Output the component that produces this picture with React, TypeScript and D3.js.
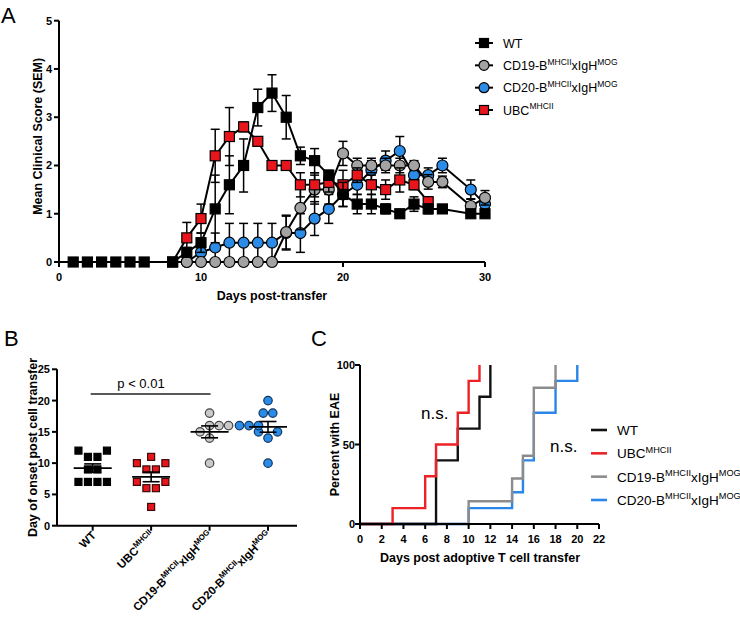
import * as d3 from "d3";

const FONT = "'Liberation Sans', Arial, Helvetica, sans-serif";

// ---- panel A: mean clinical score per day ----
const wtDays = [1, 2, 3, 4, 5, 6, 8, 9, 10, 11, 12, 13, 14, 15, 16, 17, 18, 19, 20, 21, 22, 23, 24, 25, 26, 27, 29, 30];
const wtMean = [0, 0, 0, 0, 0, 0, 0, 0.2, 0.4, 1.1, 1.6, 2.0, 3.2, 3.5, 3.0, 2.2, 2.1, 1.8, 1.4, 1.2, 1.2, 1.1, 1.0, 1.2, 1.1, 1.1, 1.0, 1.0];
const wtSem = [0, 0, 0, 0, 0, 0, 0, 0.1, 0.2, 0.7, 0.6, 0.55, 0.38, 0.38, 0.45, 0.18, 0.25, 0.1, 0.25, 0.2, 0.2, 0.1, 0.05, 0.15, 0.1, 0.08, 0.05, 0.05];

const ubcDays = [8, 9, 10, 11, 12, 13, 14, 15, 16, 17, 18, 19, 20, 21, 22, 23, 24, 25, 26];
const ubcMean = [0, 0.5, 0.9, 2.2, 2.6, 2.8, 2.5, 2.0, 2.0, 1.6, 1.6, 1.65, 1.6, 1.8, 1.6, 1.5, 1.7, 1.6, 1.25];
const ubcSem = [0, 0.32, 0.3, 0.55, 0.6, 0.1, 0.05, 0, 0, 0.25, 0.25, 0.2, 0.3, 0.15, 0.2, 0.2, 0.25, 0.1, 0.1];

const cd19Days = [9, 10, 11, 12, 13, 14, 15, 16, 17, 18, 19, 20, 21, 22, 23, 24, 25, 26, 27, 29, 30];
const cd19Mean = [0, 0, 0, 0, 0, 0, 0, 0.62, 1.12, 1.5, 1.5, 2.25, 2.0, 2.0, 2.0, 2.0, 2.0, 1.66, 1.66, 1.16, 1.33];
const cd19Sem = [0, 0, 0, 0, 0, 0, 0, 0.35, 0.45, 0.3, 0.3, 0.25, 0.15, 0.15, 0.15, 0.15, 0.1, 0.15, 0.12, 0.15, 0.15];

const cd20Days = [9, 10, 11, 12, 13, 14, 15, 16, 17, 18, 19, 20, 21, 22, 23, 24, 25, 26, 27, 29, 30];
const cd20Mean = [0, 0.2, 0.3, 0.4, 0.4, 0.4, 0.4, 0.6, 0.6, 0.9, 1.1, 1.4, 1.6, 1.9, 2.1, 2.3, 1.8, 1.8, 2.0, 1.5, 1.2];
const cd20Sem = [0, 0.2, 0.3, 0.4, 0.4, 0.4, 0.4, 0.35, 0.4, 0.35, 0.3, 0.25, 0.2, 0.2, 0.2, 0.3, 0.2, 0.15, 0.15, 0.2, 0.15];

// ---- panel B: day of onset per mouse ----
const onsetGroups = ["WT", "UBC", "CD19", "CD20"];
const onsetWT = [12, 12, 11, 11, 9, 9, 7, 7, 7, 7];
const onsetUBC = [11, 10, 10, 9, 9, 7, 7, 6, 6, 3];
const onsetCD19 = [18, 16, 16, 16, 15, 14, 10];
const onsetCD20 = [20, 18, 18, 16, 16, 16, 15, 15, 14, 10];

// ---- panel C: cumulative incidence ----
const incWtDays = [7, 9, 11, 12];
const incWtPct = [40, 60, 80, 100];
const incUbcDays = [3, 6, 7, 9, 10, 11];
const incUbcPct = [10, 30, 50, 70, 90, 100];
const incCd19Days = [10, 14, 15, 16, 18];
const incCd19Pct = [14.3, 28.6, 42.9, 85.7, 100];
const incCd20Days = [10, 14, 15, 16, 18, 20];
const incCd20Pct = [10, 20, 40, 70, 90, 100];

type Part = [string, boolean];
const lblWT: Part[] = [["WT", false]];
const lblUBC: Part[] = [["UBC", false], ["MHCII", true]];
const lblCD19: Part[] = [["CD19-B", false], ["MHCII", true], ["xIgH", false], ["MOG", true]];
const lblCD20: Part[] = [["CD20-B", false], ["MHCII", true], ["xIgH", false], ["MOG", true]];

const RED = "#e8161c";
const BLUE = "#2a8ce6";
const GREY = "#a3a3a3";

function SupText({ x, y, parts, size, weight = "normal", anchor = "start", transform }: any) {
  const shift = size * 0.42;
  let up = false;
  return (
    <text x={x} y={y} fontSize={size} fontWeight={weight} textAnchor={anchor} transform={transform}>
      {parts.map(([t, sup]: Part, i: number) => {
        let dy = 0;
        if (sup && !up) { dy = -shift; up = true; }
        else if (!sup && up) { dy = shift; up = false; }
        return (
          <tspan key={i} dy={dy} fontSize={sup ? size * 0.68 : size}>{t}</tspan>
        );
      })}
    </text>
  );
}

function Marker({ shape, x, y, fill, size, stroke = "#000" }: any) {
  if (shape === "square")
    return <rect x={x - size / 2} y={y - size / 2} width={size} height={size} fill={fill} stroke={stroke} strokeWidth={1.2} />;
  return <circle cx={x} cy={y} r={size / 2} fill={fill} stroke={stroke} strokeWidth={1.2} />;
}

// simple symmetric beeswarm: rows of equal values, pushed outward on collision
function swarm(values: number[], yScale: (v: number) => number, step: number, minDist: number) {
  const groups = d3.groups(values, (v) => v).sort((a, b) => a[0] - b[0]);
  const placed: { dx: number; y: number; v: number }[] = [];
  for (const [v, arr] of groups) {
    const n = arr.length;
    const y = yScale(v);
    let best: number[] = [];
    for (let k = 0; k < 8; k++) {
      const offs = d3.range(n).map((i) => {
        const base = (i - (n - 1) / 2) * step;
        if (n % 2 === 0) return base + Math.sign(base) * k * step / 2;
        const sh = (k % 2 === 1 ? -1 : 1) * Math.ceil(k / 2) * step / 2;
        return base + sh;
      });
      best = offs;
      const hit = offs.some((o) => placed.some((p) => Math.hypot(p.dx - o, p.y - y) < minDist));
      if (!hit) break;
    }
    best.forEach((o) => placed.push({ dx: o, y, v }));
  }
  return placed;
}

export default function App() {
  // ---------- A ----------
  const xA = d3.scaleLinear().domain([0, 30]).range([59, 485]);
  const yA = d3.scaleLinear().domain([0, 5]).range([262, 20.7]);
  const seriesA = [
    { days: cd20Days, mean: cd20Mean, sem: cd20Sem, shape: "circle", fill: BLUE, size: 11 },
    { days: cd19Days, mean: cd19Mean, sem: cd19Sem, shape: "circle", fill: GREY, size: 11 },
    { days: ubcDays, mean: ubcMean, sem: ubcSem, shape: "square", fill: RED, size: 10 },
    { days: wtDays, mean: wtMean, sem: wtSem, shape: "square", fill: "#000", size: 10 },
  ];
  const lineA = d3.line<number>();
  const legendA = [
    { lbl: lblWT, shape: "square", fill: "#000", size: 9 },
    { lbl: lblCD19, shape: "circle", fill: GREY, size: 10 },
    { lbl: lblCD20, shape: "circle", fill: BLUE, size: 10 },
    { lbl: lblUBC, shape: "square", fill: RED, size: 9 },
  ];
  const legYA = d3.scalePoint<number>().domain([0, 1, 2, 3]).range([43, 110]);

  // ---------- B ----------
  const xB = d3.scalePoint<string>().domain(onsetGroups).range([92.7, 268]);
  const yB = d3.scaleLinear().domain([0, 25]).range([525.7, 369.3]);
  const groupsB = [
    { key: "WT", vals: onsetWT, shape: "square", fill: "#000", stroke: "#000", size: 7, lbl: lblWT },
    { key: "UBC", vals: onsetUBC, shape: "square", fill: RED, stroke: "#3a0a0a", size: 7, lbl: lblUBC },
    { key: "CD19", vals: onsetCD19, shape: "circle", fill: "#c9c9c9", stroke: "#444", size: 8.5, lbl: lblCD19 },
    { key: "CD20", vals: onsetCD20, shape: "circle", fill: BLUE, stroke: "#123660", size: 8.5, lbl: lblCD20 },
  ];

  // ---------- C ----------
  const xC = d3.scaleLinear().domain([0, 22]).range([360, 599]);
  const yC = d3.scaleLinear().domain([0, 100]).range([524, 365]);
  const stepLine = d3.line<[number, number]>().x((d) => xC(d[0])).y((d) => yC(d[1])).curve(d3.curveStepAfter);
  const seriesC = [
    { days: incCd20Days, pct: incCd20Pct, color: "#2a86e8", lbl: lblCD20 },
    { days: incCd19Days, pct: incCd19Pct, color: "#8c8c8c", lbl: lblCD19 },
    { days: incWtDays, pct: incWtPct, color: "#111", lbl: lblWT },
    { days: incUbcDays, pct: incUbcPct, color: "#ec2227", lbl: lblUBC },
  ];
  const legendC = [seriesC[2], seriesC[3], seriesC[1], seriesC[0]];
  const legYC = d3.scalePoint<number>().domain([0, 1, 2, 3]).range([430, 500]);

  return (
    <svg width={740} height={628} style={{ position: "absolute", left: 0, top: 0, background: "#fff" }} fontFamily={FONT}>
      {/* panel letters */}
      <text x={1} y={23} fontSize={22}>A</text>
      <text x={4} y={346} fontSize={22}>B</text>
      <text x={311} y={346} fontSize={22}>C</text>

      {/* ===== A ===== */}
      <g stroke="#000" strokeWidth={2} fill="none">
        <line x1={xA(0)} x2={xA(0)} y1={yA(0)} y2={yA(5)} />
        <line x1={xA(0)} x2={xA(30)} y1={yA(0)} y2={yA(0)} />
        {d3.range(0, 6).map((t) => <line key={t} x1={xA(0) - 5} x2={xA(0)} y1={yA(t)} y2={yA(t)} />)}
        {[0, 10, 20, 30].map((t) => <line key={t} x1={xA(t)} x2={xA(t)} y1={yA(0)} y2={yA(0) + 5} />)}
      </g>
      <g fontSize={11} fontWeight="bold" textAnchor="end">
        {d3.range(0, 6).map((t) => <text key={t} x={xA(0) - 7} y={yA(t) + 4}>{t}</text>)}
      </g>
      <g fontSize={11} fontWeight="bold" textAnchor="middle">
        {[0, 10, 20, 30].map((t) => <text key={t} x={xA(t)} y={yA(0) + 19}>{t}</text>)}
      </g>
      <text x={272} y={300} fontSize={12.5} fontWeight="bold" textAnchor="middle">Days post-transfer</text>
      <text transform={`translate(42,${(yA(0) + yA(5)) / 2 - 5}) rotate(-90)`} fontSize={12.5} fontWeight="bold" textAnchor="middle">Mean Clinical Score (SEM)</text>

      {seriesA.map((s, si) => (
        <g key={si}>
          <path d={lineA(s.days.map((d, i) => [xA(d), yA(s.mean[i])]) as any) || ""} fill="none" stroke="#000" strokeWidth={2} />
          <g stroke="#000" strokeWidth={1.5}>
            {s.days.map((d, i) => s.sem[i] > 0 ? (
              <g key={i}>
                <line x1={xA(d)} x2={xA(d)} y1={yA(Math.max(0, s.mean[i] - s.sem[i]))} y2={yA(s.mean[i] + s.sem[i])} />
                <line x1={xA(d) - 4.5} x2={xA(d) + 4.5} y1={yA(s.mean[i] + s.sem[i])} y2={yA(s.mean[i] + s.sem[i])} />
                {s.mean[i] - s.sem[i] > 0 && (
                  <line x1={xA(d) - 4.5} x2={xA(d) + 4.5} y1={yA(s.mean[i] - s.sem[i])} y2={yA(s.mean[i] - s.sem[i])} />
                )}
              </g>
            ) : null)}
          </g>
          {s.days.map((d, i) => (
            <Marker key={i} shape={s.shape} x={xA(d)} y={yA(s.mean[i])} fill={s.fill} size={s.size} />
          ))}
        </g>
      ))}

      {legendA.map((l, i) => (
        <g key={i}>
          <line x1={475} x2={493} y1={legYA(i)!} y2={legYA(i)!} stroke="#000" strokeWidth={2} />
          <Marker shape={l.shape} x={484} y={legYA(i)!} fill={l.fill} size={l.size} />
          <SupText x={503} y={legYA(i)! + 4.5} parts={l.lbl} size={12.5} />
        </g>
      ))}

      {/* ===== B ===== */}
      <g stroke="#000" strokeWidth={2} fill="none">
        <line x1={57} x2={57} y1={yB(0)} y2={yB(25)} />
        <line x1={57} x2={297} y1={yB(0)} y2={yB(0)} />
        {d3.range(0, 26, 5).map((t) => <line key={t} x1={52} x2={57} y1={yB(t)} y2={yB(t)} />)}
        {onsetGroups.map((g) => <line key={g} x1={xB(g)!} x2={xB(g)!} y1={yB(0)} y2={yB(0) + 5} />)}
      </g>
      <g fontSize={11} fontWeight="bold" textAnchor="end">
        {d3.range(0, 26, 5).map((t) => <text key={t} x={50} y={yB(t) + 4}>{t}</text>)}
      </g>
      <text transform={`translate(37,${(yB(0) + yB(25)) / 2}) rotate(-90)`} fontSize={12.5} fontWeight="bold" textAnchor="middle">Day of onset post cell transfer</text>
      {groupsB.map((g) => {
        const cx = xB(g.key)!;
        const pts = swarm(g.vals, yB, 9.5, 8);
        const m = d3.mean(g.vals)!;
        const sem = d3.deviation(g.vals)! / Math.sqrt(g.vals.length);
        return (
          <g key={g.key}>
            {pts.map((p, i) => (
              <Marker key={i} shape={g.shape} x={cx + p.dx} y={p.y} fill={g.fill} size={g.size} stroke={g.stroke} />
            ))}
            <g stroke="#000" strokeWidth={1.6}>
              <line x1={cx - 19} x2={cx + 19} y1={yB(m)} y2={yB(m)} />
              <line x1={cx} x2={cx} y1={yB(m - sem)} y2={yB(m + sem)} />
              <line x1={cx - 8.5} x2={cx + 8.5} y1={yB(m - sem)} y2={yB(m - sem)} />
              <line x1={cx - 8.5} x2={cx + 8.5} y1={yB(m + sem)} y2={yB(m + sem)} />
            </g>
            <SupText x={cx + 4} y={536} parts={g.lbl} size={11.5} weight="bold" anchor="end" transform={`rotate(-45,${cx + 4},536)`} />
          </g>
        );
      })}
      <line x1={xB("WT")! - 2} x2={xB("CD19")! + 1} y1={394} y2={394} stroke="#222" strokeWidth={1.3} />
      <text x={141} y={388} fontSize={13} textAnchor="middle">p &lt; 0.01</text>

      {/* ===== C ===== */}
      {seriesC.map((s, i) => (
        <path key={i} d={stepLine([[0, 0], ...s.days.map((d, j) => [d, s.pct[j]] as [number, number])]) || ""} fill="none" stroke={s.color} strokeWidth={2.4} />
      ))}
      <g stroke="#000" strokeWidth={2} fill="none">
        <line x1={xC(0)} x2={xC(0)} y1={yC(0)} y2={yC(100)} />
        <line x1={xC(0)} x2={xC(22)} y1={yC(0)} y2={yC(0)} />
        {[0, 50, 100].map((t) => <line key={t} x1={xC(0) - 5} x2={xC(0)} y1={yC(t)} y2={yC(t)} />)}
        {d3.range(0, 23, 2).map((t) => <line key={t} x1={xC(t)} x2={xC(t)} y1={yC(0)} y2={yC(0) + 5} />)}
      </g>
      <g fontSize={11} fontWeight="bold" textAnchor="end">
        {[0, 50, 100].map((t) => <text key={t} x={xC(0) - 5} y={yC(t) + 4}>{t}</text>)}
      </g>
      <g fontSize={11} fontWeight="bold" textAnchor="middle">
        {d3.range(0, 23, 2).map((t) => <text key={t} x={xC(t)} y={yC(0) + 19}>{t}</text>)}
      </g>
      <text x={480} y={562} fontSize={12.5} fontWeight="bold" textAnchor="middle">Days post adoptive T cell transfer</text>
      <text transform={`translate(339,${(yC(0) + yC(100)) / 2}) rotate(-90)`} fontSize={12.5} fontWeight="bold" textAnchor="middle">Percent with EAE</text>
      <text x={421} y={419} fontSize={17}>n.s.</text>
      <text x={550} y={452} fontSize={17}>n.s.</text>
      {legendC.map((s, i) => (
        <g key={i}>
          <line x1={591} x2={607} y1={legYC(i)!} y2={legYC(i)!} stroke={s.color} strokeWidth={2.6} />
          <SupText x={617} y={legYC(i)! + 5} parts={s.lbl} size={13.5} />
        </g>
      ))}
    </svg>
  );
}
